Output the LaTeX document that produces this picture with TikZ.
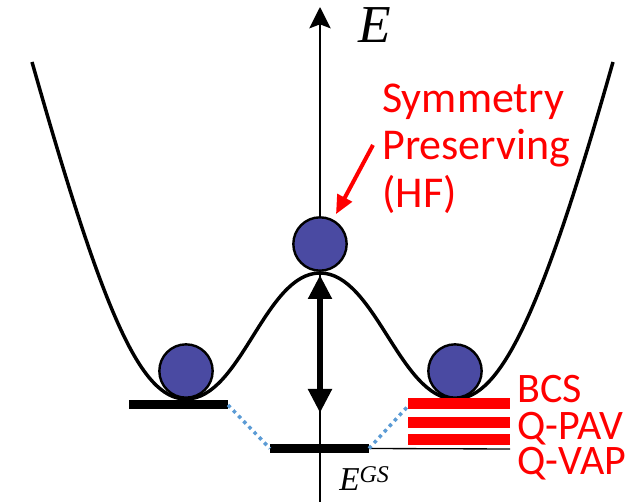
\RequirePackage{fix-cm}
\documentclass[tikz,border=0pt]{standalone}
\usepackage{fontspec}
\usepackage{tikz}
\usetikzlibrary{arrows.meta, positioning, calc}
\newfontfamily\calfont{Carlito}
\newfontfamily\eserif{Liberation Serif}
\definecolor{ballblue}{HTML}{4A4AA2}
\definecolor{linkblue}{HTML}{5B9BD5}
\definecolor{hfred}{HTML}{FF0000}

\begin{document}
\begin{tikzpicture}[
    x=0.75pt, y=-0.75pt,
    ball/.style={circle, draw=black, line width=1.8pt, fill=ballblue, minimum size=40pt, inner sep=0pt},
    well/.style={line width=2.6pt, black},
    axis/.style={-{Stealth[length=16pt, width=16pt, inset=3pt]}, line width=1.6pt},
    barrier/.style={{Triangle[length=18pt, width=17pt]}-{Triangle[length=18pt, width=17pt]}, line width=4.5pt},
    level/.style={line width=6.75pt, black},
    redlevel/.style={line width=8.25pt, hfred},
    link/.style={linkblue, line width=2.6pt, dash pattern=on 2.6pt off 3pt},
    hfarrow/.style={hfred, line width=3pt, -{Triangle[length=14pt, width=12pt]}, shorten >=4.5pt},
    elabel/.style={anchor=base west, inner sep=0pt, font=\eserif\itshape},
    statelabel/.style={font=\calfont\fontsize{31.5}{31.5}\selectfont, text=hfred, anchor=base west, inner sep=0pt},
    hflabel/.style={font=\calfont\fontsize{33}{36}\selectfont, text=hfred, anchor=base west, inner sep=0pt}
]
\useasboundingbox (0,0) rectangle (640,502);

\coordinate (axisBot) at (320,502);
\coordinate (axisTop) at (320,7);
\draw[axis] (axisBot) -- (axisTop);
\node[elabel, font=\eserif\itshape\fontsize{40}{40}\selectfont] (etop) at (358,43) {E};

\draw[well] (32,62) .. controls (103,312) and (140,399) .. (186,399)
    .. controls (241,399) and (265,273) .. (320,273)
    .. controls (375,273) and (400,399) .. (455,399)
    .. controls (501,399) and (542,312) .. (613,62);

\coordinate (barrierTop) at (320,275);
\coordinate (barrierBot) at (320,413);
\draw[barrier] (barrierTop) -- (barrierBot);

\node[ball] (leftball)  at (186,371) {};
\node[ball] (topball)   at (320,244) {};
\node[ball] (rightball) at (455,371) {};

\coordinate (symL) at (129,405);
\coordinate (symR) at (228,405);
\coordinate (gsL)  at (270,448.5);
\coordinate (gsR)  at (369,448.5);
\coordinate (gsEnd) at (510,449);
\coordinate (bcsL) at (409,405);
\draw[level] (symL) -- (symR);
\draw[level] (gsL) -- (gsR);
\draw[line width=1pt] (gsR) -- (gsEnd);
\foreach \yy in {403.5, 422.5, 439.5}
    \draw[redlevel] (408,\yy) -- (510,\yy);
\draw[link] (symR) -- (gsL);
\draw[link] (gsR) -- (bcsL);

\node[elabel, font=\eserif\itshape\fontsize{25}{25}\selectfont] (egs) at (339,491)
    {E\raisebox{6.5pt}{\fontsize{18}{18}\selectfont GS}};

\node[statelabel] (bcs)  at (517,403) {BCS};
\node[statelabel] (qpav) at (517,440) {Q-PAV};
\node[statelabel] (qvap) at (517,475) {Q-VAP};

\node[hflabel] (hf1) at (382,113) {Symmetry};
\node[hflabel] (hf2) at (382,160) {Preserving};
\node[hflabel] (hf3) at (382,208) {(HF)};
\coordinate (hfStart) at (373,145);
\draw[hfarrow] (hfStart) -- (topball);
\end{tikzpicture}
\end{document}
